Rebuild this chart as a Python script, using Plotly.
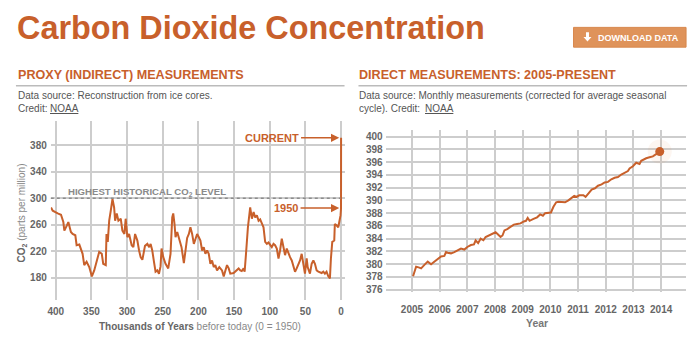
import plotly.graph_objects as go

# ---------------- data ----------------
proxy_kyr = [406.7, 404.3, 397.3, 392.7, 389.4, 388.0, 384.4, 382.4, 378.8, 376.4, 372.6, 370.8, 367.0, 362.4,
             360.1, 356.8, 353.1, 349.4, 346.1, 342.5, 339.1, 335.5, 333.5, 329.9, 328.9, 327.1, 325.1, 322.9,
             320.5, 318.2, 316.8, 314.5, 312.2, 308.9, 306.6, 303.8, 302.0, 299.6, 297.2, 293.6, 291.2, 288.8,
             285.6, 283.2, 281.0, 278.6, 274.9, 271.6, 269.0, 267.0, 264.7, 262.3, 260.1, 257.7, 255.3, 253.1,
             251.7, 249.3, 246.1, 242.3, 239.1, 236.7, 235.3, 233.5, 232.1, 229.7, 227.4, 223.7, 220.4, 218.2,
             215.8, 213.4, 211.2, 208.8, 206.4, 204.2, 201.8, 199.4, 197.2, 194.8, 192.5, 190.2, 187.8, 185.5,
             183.2, 180.9, 178.5, 176.3, 173.9, 170.7, 166.9, 164.5, 162.3, 159.9, 157.5, 155.3, 150.6, 145.9,
             143.6, 141.3, 139.2, 136.6, 135.2, 133.4, 130.6, 127.4, 125.0, 122.6, 120.4, 118.0, 115.6, 113.4,
             111.0, 108.7, 106.4, 104.0, 101.7, 99.4, 97.1, 94.7, 92.5, 90.1, 87.7, 85.5, 83.1, 80.7, 78.5,
             76.1, 73.7, 71.5, 69.1, 66.8, 64.5, 62.2, 59.8, 57.5, 55.2, 52.8, 50.6, 48.2, 46.8, 43.6, 41.2,
             38.8, 36.6, 34.2, 31.8, 27.2, 24.9, 22.6, 20.3, 17.9, 15.6, 14.2, 12.3, 9.5, 8.7, 6.3, 3.9, 2.5,
             0.7, 0.0, -0.062]
proxy_ppm = [286, 281, 277, 275, 264, 251, 259, 264, 249, 246, 244, 229, 230, 216,
             199, 204, 196, 182, 191, 206, 219, 216, 201, 199, 246, 234, 266, 281,
             299, 286, 266, 277, 266, 269, 251, 246, 269, 241, 246, 229, 226, 246,
             236, 221, 211, 207, 228, 231, 226, 231, 221, 204, 189, 191, 186, 197,
             224, 211, 201, 194, 216, 271, 277, 261, 241, 249, 239, 226, 202, 217,
             240, 246, 256, 246, 231, 238, 246, 241, 236, 221, 226, 216, 221, 216,
             201, 206, 196, 199, 191, 196, 191, 182, 189, 199, 194, 186, 187, 191,
             194, 191, 190, 194, 189, 214, 256, 286, 269, 279, 271, 274, 266, 268,
             261, 256, 234, 231, 233, 229, 226, 231, 229, 224, 209, 221, 239, 226, 214,
             224, 216, 211, 206, 196, 189, 194, 201, 206, 216, 196, 186, 209, 196, 186, 201,
             206, 201, 191, 189, 187, 189, 186, 189, 182, 179, 209, 234, 236, 261, 259, 256, 264,
             274, 285, 391]

direct_year = [2005.04, 2005.15, 2005.24, 2005.33, 2005.45, 2005.57, 2005.69, 2005.81, 2005.93, 2006.05,
               2006.17, 2006.23, 2006.29, 2006.41, 2006.53, 2006.65, 2006.77, 2006.89, 2007.00, 2007.13,
               2007.24, 2007.30, 2007.39, 2007.48, 2007.58, 2007.66, 2007.78, 2007.90, 2008.02, 2008.10,
               2008.20, 2008.27, 2008.34, 2008.44, 2008.56, 2008.68, 2008.80, 2008.92, 2009.04, 2009.12,
               2009.18, 2009.25, 2009.39, 2009.52, 2009.63, 2009.73, 2009.81, 2009.93, 2010.02, 2010.11,
               2010.21, 2010.29, 2010.41, 2010.53, 2010.65, 2010.77, 2010.86, 2010.95, 2011.04, 2011.19,
               2011.27, 2011.37, 2011.49, 2011.61, 2011.72, 2011.85, 2011.96, 2012.08, 2012.20, 2012.32,
               2012.44, 2012.56, 2012.68, 2012.80, 2012.86, 2012.98, 2013.10, 2013.22, 2013.28, 2013.36,
               2013.46, 2013.58, 2013.70, 2013.82, 2013.95]
direct_ppm = [378.1, 379.6, 379.5, 379.35, 379.9, 380.4, 380.0, 380.4, 380.75, 381.2,
              381.3, 381.9, 381.8, 381.7, 381.9, 382.2, 382.45, 382.3, 382.7, 383.0,
              383.1, 383.75, 383.3, 384.0, 383.75, 384.26, 384.5, 384.8, 385.0, 384.7,
              384.26, 384.5, 385.3, 385.5, 385.8, 386.2, 386.3, 386.4, 386.7, 386.8,
              387.25, 386.8, 387.1, 387.35, 387.8, 387.6, 388.0, 388.0, 388.1, 389.0,
              389.7, 389.8, 389.8, 389.7, 390.0, 390.45, 390.7, 390.55, 390.8, 390.8,
              390.55, 391.07, 391.7, 391.9, 392.3, 392.5, 392.8, 392.9, 393.3, 393.55,
              393.65, 394.05, 394.3, 394.6, 395.0, 395.35, 395.9, 395.7, 396.2, 396.4,
              396.6, 396.75, 396.9, 397.25, 397.65]

proxy_xticks = [400, 350, 300, 250, 200, 150, 100, 50, 0]
proxy_yticks = [180, 220, 260, 300, 340, 380]
direct_xticks = [2005, 2006, 2007, 2008, 2009, 2010, 2011, 2012, 2013, 2014]
direct_yticks = [376, 378, 380, 382, 384, 386, 388, 390, 392, 394, 396, 398, 400]
highest_level = 300
current_ppm = 391
ppm_1950 = 285

# ---------------- styling ----------------
W, H = 700, 351
ORANGE = "#C8602B"
GRID = "#CDCDCD"
TICK = "#666666"
FONT = "Liberation Sans, Arial, sans-serif"


def px(x):
    return x / W


def py(y):
    return 1 - y / H


fig = go.Figure()
fig.add_trace(go.Scatter(x=proxy_kyr, y=proxy_ppm, mode="lines",
                         line=dict(color=ORANGE, width=2), xaxis="x", yaxis="y",
                         hoverinfo="skip"))
fig.add_trace(go.Scatter(x=direct_year, y=direct_ppm, mode="lines",
                         line=dict(color=ORANGE, width=2), xaxis="x2", yaxis="y2",
                         hoverinfo="skip"))
# end marker (with faint halo)
fig.add_trace(go.Scatter(x=direct_year[-1:], y=direct_ppm[-1:], mode="markers",
                         marker=dict(color="rgba(230,140,80,0.08)", size=24),
                         xaxis="x2", yaxis="y2", hoverinfo="skip"))
fig.add_trace(go.Scatter(x=direct_year[-1:], y=direct_ppm[-1:], mode="markers",
                         marker=dict(color=ORANGE, size=9),
                         xaxis="x2", yaxis="y2", hoverinfo="skip"))

tickfont = dict(family=FONT, size=10, color=TICK, weight="bold")
axis_common = dict(showgrid=True, gridcolor=GRID, gridwidth=1.5, zeroline=False,
                   showline=False, ticks="", tickfont=tickfont, fixedrange=True)

fig.update_layout(
    width=W, height=H,
    margin=dict(l=0, r=0, t=0, b=0),
    paper_bgcolor="white", plot_bgcolor="white",
    showlegend=False,
    font=dict(family=FONT),
    xaxis=dict(domain=[px(48), px(343)], range=[407, -4.9], tickvals=proxy_xticks,
               anchor="y", ticklabelstandoff=4, **axis_common),
    yaxis=dict(domain=[py(303), py(122.7)], range=[147, 416], tickvals=proxy_yticks,
               anchor="x", ticklabelstandoff=3, **axis_common),
    xaxis2=dict(domain=[px(384.3), px(686)], range=[2004.05, 2014.9], tickvals=direct_xticks,
                anchor="y2", ticklabelstandoff=10, **axis_common),
    yaxis2=dict(domain=[py(295), py(131.7)], range=[375.7, 401.0], tickvals=direct_yticks,
                anchor="x2", ticklabelstandoff=2, **axis_common),
)

shapes = []
# header rules
shapes.append(dict(type="line", xref="paper", yref="paper", x0=px(13), x1=px(343),
                   y0=py(86.7), y1=py(86.7), line=dict(color="#BBBBBB", width=1.5)))
shapes.append(dict(type="line", xref="paper", yref="paper", x0=px(357), x1=px(687),
                   y0=py(86.7), y1=py(86.7), line=dict(color="#BBBBBB", width=1.5)))
# highest level dotted line
shapes.append(dict(type="line", xref="paper", yref="y", x0=px(48), x1=px(339),
                   y0=highest_level, y1=highest_level,
                   line=dict(color="#8C8C8C", width=1.5, dash="dot"), layer="above"))
# download button
shapes.append(dict(type="rect", xref="paper", yref="paper", x0=px(573), x1=px(686),
                   y0=py(47.7), y1=py(27.7), fillcolor="#DF935A",
                   line=dict(color="#D8874C", width=1)))


# button arrow icon (thick down arrow)
def P(x, y):
    return f"{px(x):.5f},{py(y):.5f}"


arrow_path = ("M " + P(585.5, 32.5) + " L " + P(588.5, 32.5) + " L " + P(588.5, 37.5) + " L " +
              P(591, 37.5) + " L " + P(587, 42) + " L " + P(583, 37.5) + " L " + P(585.5, 37.5) + " Z")
shapes.append(dict(type="path", xref="paper", yref="paper", path=arrow_path,
                   fillcolor="white", line=dict(width=0)))
fig.update_layout(shapes=shapes)

ann = []


def text(x, y, t, size=10, color="#555555", xanchor="left", weight="normal", **kw):
    ann.append(dict(x=px(x), y=py(y), xref="paper", yref="paper", text=t, showarrow=False,
                    xanchor=xanchor, yanchor="middle",
                    font=dict(family=FONT, size=size, color=color, weight=weight), **kw))


text(12, 28, "Carbon Dioxide Concentration", size=32.4, color=ORANGE, weight="bold")
text(13, 76, "PROXY (INDIRECT) MEASUREMENTS", size=12.6, color=ORANGE, weight="bold")
text(356, 76, "DIRECT MEASUREMENTS: 2005-PRESENT", size=12.6, color=ORANGE, weight="bold")
text(13, 96.5, "Data source: Reconstruction from ice cores.")
text(13, 110, "Credit: ")
ann.append(dict(x=px(45.3), y=py(110), xref="paper", yref="paper", text="NOAA", showarrow=False,
                xanchor="left", yanchor="middle",
                font=dict(family=FONT, size=10, color="#555555", lineposition="under")))
text(356, 96.5, "Data source: Monthly measurements (corrected for average seasonal")
text(356, 110, "cycle). Credit: ")
ann.append(dict(x=px(421.5), y=py(110), xref="paper", yref="paper", text="NOAA", showarrow=False,
                xanchor="left", yanchor="middle",
                font=dict(family=FONT, size=10, color="#555555", lineposition="under")))
# button text
text(596, 38, "DOWNLOAD DATA", size=9, color="white", weight="bold")

# axis titles
text(197.5, 330, "<b>Thousands of Years</b><span style='color:#888888'> before today (0 = 1950)</span>",
     color="#666666", xanchor="center")
text(536, 327, "Year", size=10.5, color="#777777", xanchor="center", weight="bold")
text(19, 215, "<b>CO<sub>2</sub></b><span style='color:#888888'> (parts per million)</span>",
     color="#666666", xanchor="center", textangle=-90)

# annotations on proxy chart
text(63, 194, "HIGHEST HISTORICAL CO<sub>2</sub> LEVEL", size=9.6, color="#8A8A8A", weight="bold")
# labelled arrows: text sits at the tail, arrow points at the curve
for label, yv, half_w in (("CURRENT", current_ppm, 27), ("1950", ppm_1950, 12.5)):
    ann.append(dict(x=2.5, y=yv, xref="x", yref="y",
                    ax=-(337.7 - 297.0 + half_w), ay=0, axref="pixel", ayref="pixel",
                    text=label, showarrow=True, arrowhead=2, arrowsize=1.1, arrowwidth=1.5,
                    arrowcolor=ORANGE, standoff=0, borderpad=2,
                    font=dict(family=FONT, size=11, color=ORANGE, weight="bold")))

fig.update_layout(annotations=ann)
fig.write_html("out.html")
